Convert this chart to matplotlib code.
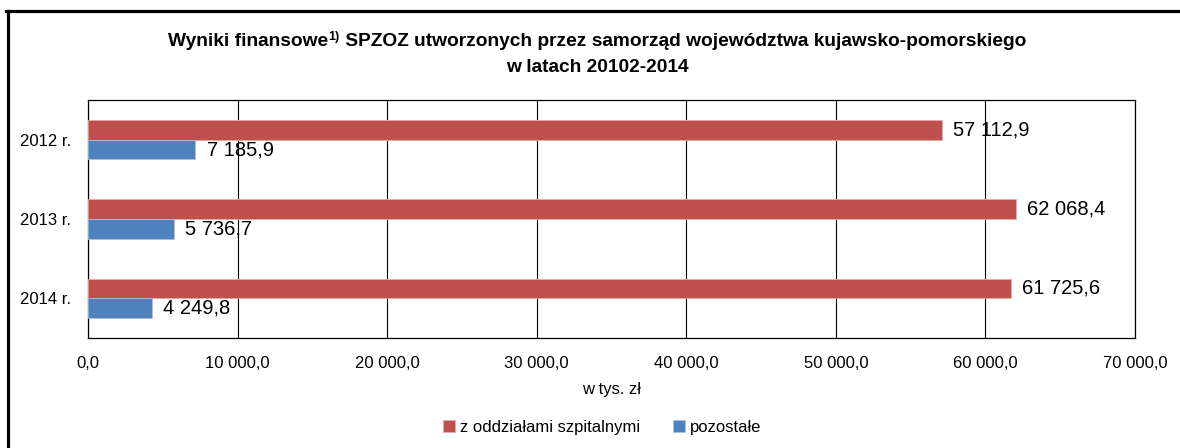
import numpy as np
import matplotlib
matplotlib.use("Agg")
import matplotlib.pyplot as plt
from matplotlib.lines import Line2D
from matplotlib.ticker import FuncFormatter

plt.rcParams['font.family'] = ['Liberation Sans Narrow', 'Liberation Sans', 'DejaVu Sans']

# data
years = ["2012 r.", "2013 r.", "2014 r."]
szpitalne = [57112.9, 62068.4, 61725.6]
pozostale = [7185.9, 5736.7, 4249.8]
series_names = ["z oddziałami szpitalnymi", "pozostałe"]

RED = "#C0504D"
BLUE = "#4F81BD"


def pl_num(v, decimals=1):
    s = f"{v:,.{decimals}f}"
    return s.replace(",", " ").replace(".", ",")


fig = plt.figure(figsize=(11.8, 4.48), dpi=100)
ax = fig.add_axes([88 / 1180, 1 - 338 / 448, (1135 - 88) / 1180, 238 / 448])

y = np.arange(len(years))
h = 0.25
b1 = ax.barh(y - h / 2, szpitalne, height=h, color=RED, edgecolor="#E8A9A8",
             linewidth=0.6, label=series_names[0], zorder=3)
b2 = ax.barh(y + h / 2, pozostale, height=h, color=BLUE, edgecolor="#A9C0E0",
             linewidth=0.6, label=series_names[1], zorder=3)

for bars, vals in ((b1, szpitalne), (b2, pozostale)):
    for rect, v in zip(bars, vals):
        ax.annotate(pl_num(v), (rect.get_width(), rect.get_y() + rect.get_height() / 2),
                    xytext=(8, 0), textcoords="offset points", va="center", ha="left",
                    fontsize=14.5, zorder=4)

ax.set_xlim(0, 70000)
ax.set_ylim(2.5, -0.5)
ax.set_xticks(np.arange(0, 70001, 10000))
ax.xaxis.set_major_formatter(FuncFormatter(lambda v, p: pl_num(v)))
ax.set_yticks(y)
ax.set_yticklabels(years)
ax.tick_params(axis="both", length=0, labelsize=12)
ax.tick_params(axis="y", pad=12)
ax.tick_params(axis="x", pad=13)
ax.grid(axis="x", color="black", linewidth=0.8, zorder=0)
for s in ax.spines.values():
    s.set_color("black")
    s.set_linewidth(0.9)
ax.set_xlabel("w tys. zł", fontsize=12, labelpad=8)

fig.legend(handles=[b1, b2], labels=series_names, loc="center",
           bbox_to_anchor=(602 / 1180, 1 - 427 / 448), ncol=2, frameon=False,
           fontsize=12, handlelength=0.7, handleheight=0.7, handletextpad=0.3,
           columnspacing=2.0)

# title with superscript
tsize = 13.8
fig.canvas.draw()
r = fig.canvas.get_renderer()
y1 = 1 - 42 / 448
parts = [fig.text(0, y1, "Wyniki finansowe", fontsize=tsize, fontweight="bold", va="center"),
         fig.text(0, y1 + 5 / 448, "1)", fontsize=tsize * 0.65, fontweight="bold", va="center"),
         fig.text(0, y1, " SPZOZ utworzonych przez samorząd województwa kujawsko-pomorskiego",
                  fontsize=tsize, fontweight="bold", va="center")]
widths = [p.get_window_extent(r).width for p in parts]
x = 597 - sum(widths) / 2
for p, w in zip(parts, widths):
    p.set_x(x / 1180)
    x += w
fig.text(597 / 1180, 1 - 68 / 448, "w latach 20102-2014", fontsize=tsize,
         fontweight="bold", ha="center", va="center")

# outer frame (top and left edges)
fig.add_artist(Line2D([6 / 1180, 1], [1 - 11.5 / 448] * 2, color="black", linewidth=2.3,
                      transform=fig.transFigure))
fig.add_artist(Line2D([7.5 / 1180] * 2, [0, 1 - 11.5 / 448], color="black", linewidth=2.3,
                      transform=fig.transFigure))

fig.savefig("out.png", dpi=100)
